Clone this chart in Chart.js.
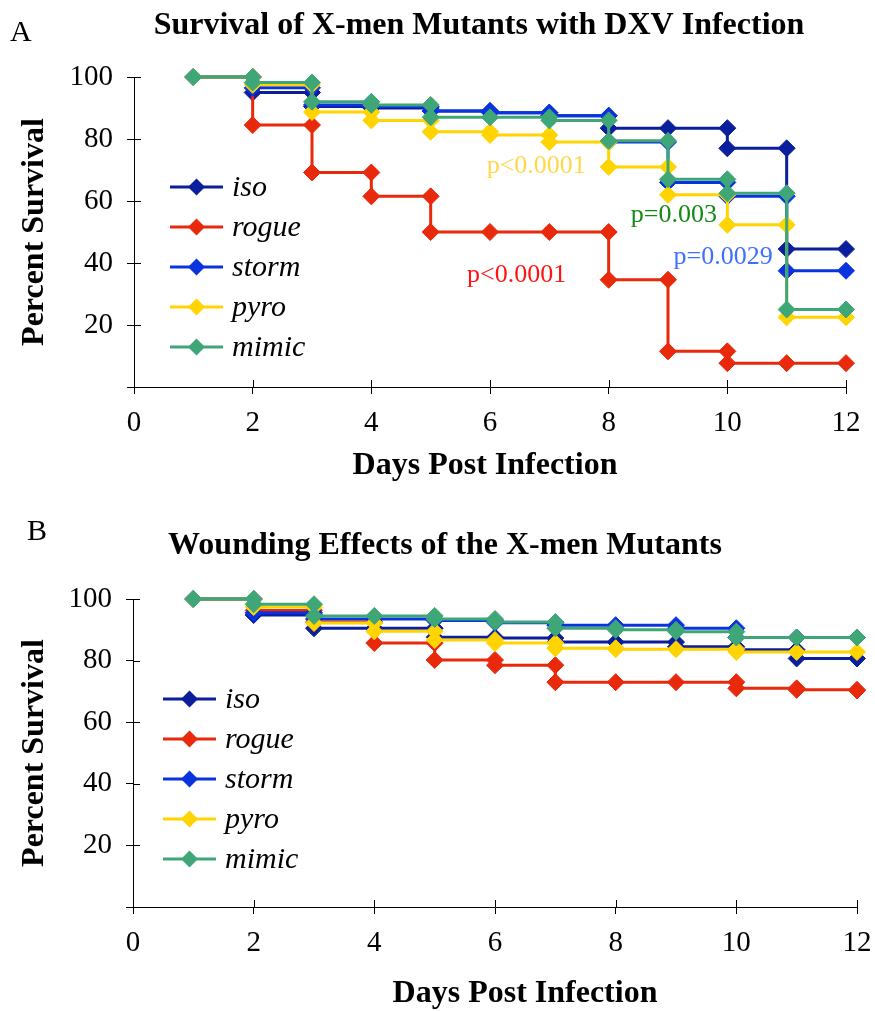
<!DOCTYPE html>
<html>
<head>
<meta charset="utf-8">
<script src="https://cdn.jsdelivr.net/npm/chart.js@4.4.0/dist/chart.umd.min.js"></script>
<style>
  html, body { margin: 0; padding: 0; background: #fff; }
  #wrap { position: relative; width: 875px; height: 1011px; }
  .panel { position: absolute; left: 0; width: 875px; }
  #panelA { top: 0; height: 500px; }
  #panelB { top: 505px; height: 506px; }
</style>
</head>
<body>
<div id="wrap">
  <div class="panel" id="panelA"><canvas id="chartA"></canvas></div>
  <div class="panel" id="panelB"><canvas id="chartB"></canvas></div>
</div>
<script>
// Series names and colours (legend order)
const mutants = ['iso', 'rogue', 'storm', 'pyro', 'mimic'];
const colors = ['#0b1f9c', '#e8290b', '#0a33e0', '#ffd400', '#3fa677'];

// Days post infection
const days = [1, 2, 3, 4, 5, 6, 7, 8, 9, 10, 11, 12];
const xTicks = [0, 2, 4, 6, 8, 10, 12];
const yTicks = [0, 20, 40, 60, 80, 100];

// Panel A - percent survival at the end of each day (DXV infection)
const isoA   = [100, 95, 90.5, 90, 89, 88.5, 87.5, 83.5, 83.5, 77, 44.5, 44.5];
const rogueA = [100, 84.5, 69.2, 61.5, 50, 50, 50, 34.6, 11.5, 7.7, 7.7, 7.7];
const stormA = [100, 96.5, 91, 90.5, 89, 88.5, 87.5, 79, 66, 61.5, 37.5, 37.5];
const pyroA  = [100, 97.5, 88.7, 86, 82.3, 81.3, 79, 71, 62, 52.3, 22.5, 22.5];
const mimicA = [100, 98.2, 92, 91, 87, 87, 86, 79.4, 67, 62.5, 25, 25];

// Panel B - percent survival at the end of each day (wounding)
const isoB   = [100, 94.8, 90.5, 90.5, 87.6, 87.3, 86, 86, 84.5, 83.5, 80.7, 80.7];
const rogueB = [100, 96.3, 92.5, 85.7, 80.2, 78.5, 73, 73, 73, 71, 70.5, 70.3];
const stormB = [100, 95.5, 93.5, 93.5, 93, 92.3, 91.5, 91.5, 90.5, 87.5, 87.5, 87.5];
const pyroB  = [100, 97.4, 92.2, 89.5, 86.7, 85.7, 84, 83.7, 83.7, 82.8, 82.8, 82.8];
const mimicB = [100, 98.3, 94.5, 94.5, 93.5, 92.5, 90.5, 90, 89.4, 87.5, 87.5, 87.5];

// p-value labels for panel A
const pTexts = ['p<0.0001', 'p<0.0001', 'p=0.003', 'p=0.0029'];
const pDays = [6.45, 6.78, 9.1, 9.93];
const pValues = [36, 71.3, 55.5, 42];
const pColors = ['#ff1414', '#ffd84a', '#138a13', '#3f6fff'];

const serif = "'Liberation Serif', 'Times New Roman', serif";

// Kaplan-Meier style steps: a point before and after each day's drop
function stepPoints(values) {
    const pts = [];
    let prev = values[0];
    days.forEach((d, i) => {
        pts.push({x: d, y: prev});
        if (values[i] !== prev) pts.push({x: d, y: values[i]});
        prev = values[i];
    });
    return pts;
}

// ticks that cross the axis line (inner half)
const crossTicks = {
    id: 'crossTicks',
    beforeDatasetsDraw(chart) {
        const ctx = chart.ctx;
        const {x, y} = chart.scales;
        ctx.save();
        ctx.strokeStyle = '#000';
        ctx.lineWidth = 1;
        ctx.beginPath();
        x.ticks.forEach(t => {
            const px = Math.round(x.getPixelForValue(t.value)) + 0.5;
            ctx.moveTo(px, x.top);
            ctx.lineTo(px, x.top - 7);
        });
        y.ticks.forEach(t => {
            const py = Math.round(y.getPixelForValue(t.value)) + 0.5;
            ctx.moveTo(y.right, py);
            ctx.lineTo(y.right + 7, py);
        });
        ctx.stroke();
        ctx.restore();
    }
};

// heading, x title, panel letter, legend inside the plot and p-value notes
const extras = {
    id: 'extras',
    afterDatasetsDraw(chart, args, opts) {
        const ctx = chart.ctx;
        const area = chart.chartArea;
        ctx.save();
        ctx.textBaseline = 'middle';

        // heading and x axis title
        ctx.fillStyle = '#000';
        ctx.font = 'bold 32px ' + serif;
        ctx.textAlign = 'center';
        ctx.fillText(opts.heading.text, opts.heading.x, opts.heading.y);
        ctx.fillText(opts.xTitle.text, opts.xTitle.x, opts.xTitle.y);

        // panel letter
        ctx.font = '30px ' + serif;
        ctx.textAlign = 'left';
        ctx.fillText(opts.letter.text, opts.letter.x, opts.letter.y);

        // legend
        const lx = area.left + opts.legend.x;
        chart.data.datasets.forEach((ds, i) => {
            const ly = area.top + opts.legend.y + i * opts.legend.gap;
            ctx.strokeStyle = ds.borderColor;
            ctx.lineWidth = 3;
            ctx.beginPath();
            ctx.moveTo(lx, ly);
            ctx.lineTo(lx + 53, ly);
            ctx.stroke();
            ctx.fillStyle = ds.backgroundColor;
            ctx.beginPath();
            ctx.moveTo(lx + 26.5, ly - 8.5);
            ctx.lineTo(lx + 35, ly);
            ctx.lineTo(lx + 26.5, ly + 8.5);
            ctx.lineTo(lx + 18, ly);
            ctx.closePath();
            ctx.fill();
            ctx.fillStyle = '#000';
            ctx.font = 'italic 30px ' + serif;
            ctx.fillText(ds.label, lx + 62, ly + 1);
        });

        // p-values
        if (opts.notes) {
            ctx.font = '26px ' + serif;
            ctx.textAlign = 'center';
            opts.notes.forEach(n => {
                ctx.fillStyle = n.color;
                ctx.fillText(n.text, chart.scales.x.getPixelForValue(n.x),
                    chart.scales.y.getPixelForValue(n.y));
            });
        }
        ctx.restore();
    }
};

function makeChart(canvasId, seriesValues, cfg) {
    const ctx = document.getElementById(canvasId).getContext('2d');
    const drawOrder = [4, 3, 2, 1, 0];
    return new Chart(ctx, {
        type: 'line',
        data: {
            datasets: mutants.map((name, i) => ({
                label: name,
                data: stepPoints(seriesValues[i]),
                borderColor: colors[i],
                backgroundColor: colors[i],
                pointBackgroundColor: colors[i],
                pointBorderColor: colors[i],
                pointStyle: 'rectRot',
                pointRadius: 8.5,
                pointBorderWidth: 1,
                borderWidth: 3,
                tension: 0,
                clip: false,
                order: drawOrder[i]
            }))
        },
        options: {
            responsive: true,
            maintainAspectRatio: false,
            animation: false,
            layout: {
                padding: {left: 0, right: cfg.padRight, top: cfg.padTop, bottom: 0}
            },
            plugins: {
                legend: {display: false},
                tooltip: {enabled: false},
                title: {display: false},
                extras: {
                    heading: cfg.heading,
                    xTitle: cfg.xTitle,
                    letter: cfg.letter,
                    legend: cfg.legend,
                    notes: cfg.notes
                }
            },
            scales: {
                x: {
                    type: 'linear',
                    min: 0,
                    max: 12,
                    afterBuildTicks: scale => {
                        scale.ticks = xTicks.map(v => ({value: v}));
                    },
                    afterFit: scale => {
                        scale.height = cfg.xHeight;
                        scale.paddingLeft = 0;
                        scale.paddingRight = 0;
                    },
                    grid: {drawOnChartArea: false, tickLength: 7, color: '#000'},
                    border: {color: '#000', width: 1},
                    ticks: {
                        color: '#000',
                        padding: 12,
                        font: {family: serif, size: 29}
                    }
                },
                y: {
                    min: 0,
                    max: 100,
                    afterBuildTicks: scale => {
                        scale.ticks = yTicks.map(v => ({value: v}));
                    },
                    afterFit: scale => {
                        scale.width = cfg.yWidth;
                        scale.paddingTop = 0;
                        scale.paddingBottom = 0;
                    },
                    grid: {drawOnChartArea: false, tickLength: 7, color: '#000'},
                    border: {color: '#000', width: 1},
                    ticks: {
                        color: '#000',
                        padding: 14,
                        font: {family: serif, size: 29},
                        callback: v => (v === 0 ? '' : v)
                    },
                    title: {
                        display: true,
                        text: 'Percent Survival',
                        color: '#000',
                        font: {family: serif, size: 32, weight: 'bold'},
                        padding: {top: 16, bottom: 0}
                    }
                }
            }
        },
        plugins: [crossTicks, extras]
    });
}

const chartA = makeChart('chartA', [isoA, rogueA, stormA, pyroA, mimicA], {
    heading: {text: 'Survival of X-men Mutants with DXV Infection', x: 479, y: 26},
    xTitle: {text: 'Days Post Infection', x: 485, y: 466},
    padTop: 77,
    padRight: 29,
    yWidth: 134,
    xHeight: 113,
    letter: {text: 'A', x: 10, y: 33},
    legend: {x: 36, y: 110, gap: 40},
    notes: pTexts.map((t, i) => ({text: t, x: pDays[i], y: pValues[i], color: pColors[i]}))
});

const chartB = makeChart('chartB', [isoB, rogueB, stormB, pyroB, mimicB], {
    heading: {text: 'Wounding Effects of the X-men Mutants', x: 445, y: 41},
    xTitle: {text: 'Days Post Infection', x: 525, y: 489},
    padTop: 94,
    padRight: 18,
    yWidth: 133,
    xHeight: 104,
    letter: {text: 'B', x: 27, y: 27},
    legend: {x: 30, y: 100, gap: 40},
    notes: null
});
</script>
</body>
</html>
